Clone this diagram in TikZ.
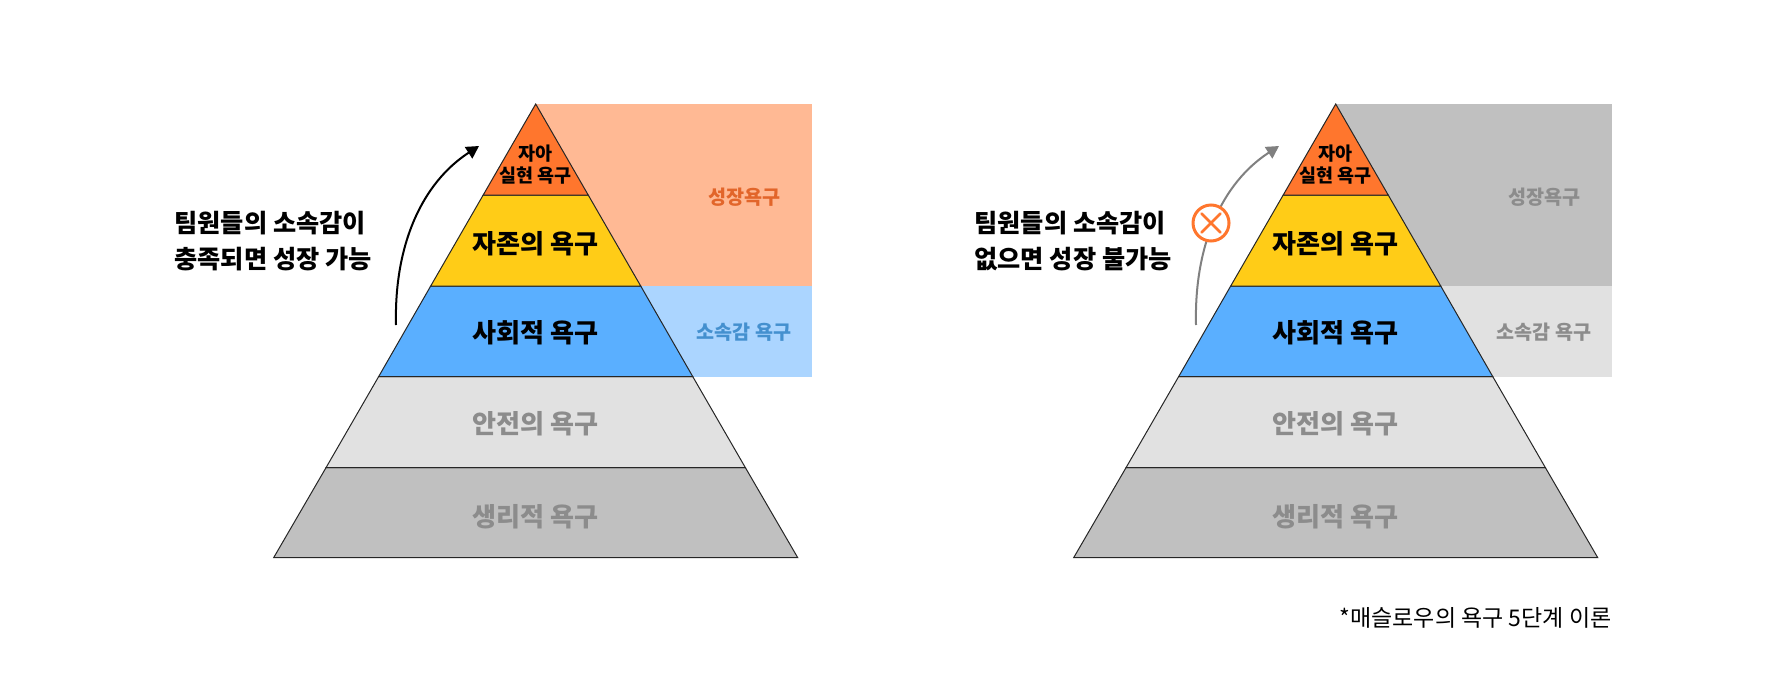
\documentclass[tikz,border=0pt]{standalone}
\usepackage{fontspec}
\setmainfont{Noto Sans CJK KR}
\usetikzlibrary{arrows.meta}
\definecolor{corange}{HTML}{FF762D}
\definecolor{cyellow}{HTML}{FFCC17}
\definecolor{cblue}{HTML}{5AAFFF}
\definecolor{cgrayL}{HTML}{E1E1E1}
\definecolor{cgrayD}{HTML}{C0C0C0}
\definecolor{cpeach}{HTML}{FFB994}
\definecolor{clblue}{HTML}{ABD5FF}
\definecolor{tgray}{HTML}{8C8C8C}
\definecolor{torange}{HTML}{E2652A}
\definecolor{tblue}{HTML}{4490CF}
\definecolor{lgray}{HTML}{808080}
\tikzset{
  x=1pt,y=-1pt,
  layer/.style={draw=black!85,line width=1pt,line join=miter},
  big/.style={font=\bfseries\fontsize{26.1}{30}\selectfont},
  mid/.style={font=\bfseries\fontsize{18.5}{22}\selectfont},
  side/.style={font=\bfseries\fontsize{19.6}{24}\selectfont},
  claim/.style={font=\bfseries\fontsize{25.2}{36}\selectfont,align=left,anchor=west},
  note/.style={font=\fontsize{23}{28}\selectfont,anchor=east},
  curve/.style={line width=2pt,-{Triangle[length=12.5pt,width=13.5pt]}},
}
% #1 centre x, #2 upper panel, #3 lower panel, #4 side-text 1, #5 side-text 2, #6 prefix
\newcommand{\mypyr}[6]{%
  \fill[#2] (#1,104) rectangle (#1+276.5,286);
  \fill[#3] (#1,286) rectangle (#1+276.5,377);
  \path[layer,fill=cgrayD] (#1-262,557.6) -- (#1-209.6,467.5) -- (#1+209.6,467.5) -- (#1+262,557.6) -- cycle;
  \path[layer,fill=cgrayL] (#1-209.6,467.5) -- (#1-157,376.5) -- (#1+157,376.5) -- (#1+209.6,467.5) -- cycle;
  \path[layer,fill=cblue] (#1-157,376.5) -- (#1-105,286) -- (#1+105,286) -- (#1+157,376.5) -- cycle;
  \path[layer,fill=cyellow] (#1-105,286) -- (#1-52.5,195) -- (#1+52.5,195) -- (#1+105,286) -- cycle;
  \path[layer,fill=corange] (#1-52.5,195) -- (#1,104) -- (#1+52.5,195) -- cycle;
  \node[mid] (#6a) at (#1,153.5) {자아};
  \node[mid] (#6b) at (#1,175.5) {실현 욕구};
  \node[big] (#6c) at (#1,243.5) {자존의 욕구};
  \node[big] (#6d) at (#1,333) {사회적 욕구};
  \node[big,text=tgray] (#6e) at (#1,424) {안전의 욕구};
  \node[big,text=tgray] (#6f) at (#1,516.5) {생리적 욕구};
  \node[side,text=#4] (#6g) at (#1+208.5,197) {성장욕구};
  \node[side,text=#5] (#6h) at (#1+208.5,332.5) {소속감 욕구};
}
\begin{document}
\begin{tikzpicture}
\useasboundingbox (0,0) rectangle (1787,691);
\mypyr{535.7}{cpeach}{clblue}{torange}{tblue}{L}
\mypyr{1335.7}{cgrayD}{cgrayL}{tgray}{tgray}{R}
\node[claim] (Lclaim) at (171,241) {팀원들의 소속감이\\충족되면 성장 가능};
\node[claim] (Rclaim) at (971,241) {팀원들의 소속감이\\없으면 성장 불가능};
\coordinate (La) at (396,325);
\coordinate (Lb) at (479,146);
\coordinate (Ra) at (1196,325);
\coordinate (Rb) at (1279,146);
\draw[curve,black] (La) .. controls (394,245) and (422,183) .. (Lb);
\draw[curve,lgray] (Ra) .. controls (1194,245) and (1222,183) .. (Rb);
\node[circle,draw=corange,fill=white,line width=3pt,minimum size=36pt,inner sep=0pt] (cross) at (1211,223) {};
\draw[corange,line width=2.6pt,line cap=round] (cross.center) ++(-9.5,-9.5) -- ++(19,19);
\draw[corange,line width=2.6pt,line cap=round] (cross.center) ++(9.5,-9.5) -- ++(-19,19);
\node[note] (footnote) at (1615,618) {*매슬로우의 욕구 5단계 이론};
\end{tikzpicture}
\end{document}
